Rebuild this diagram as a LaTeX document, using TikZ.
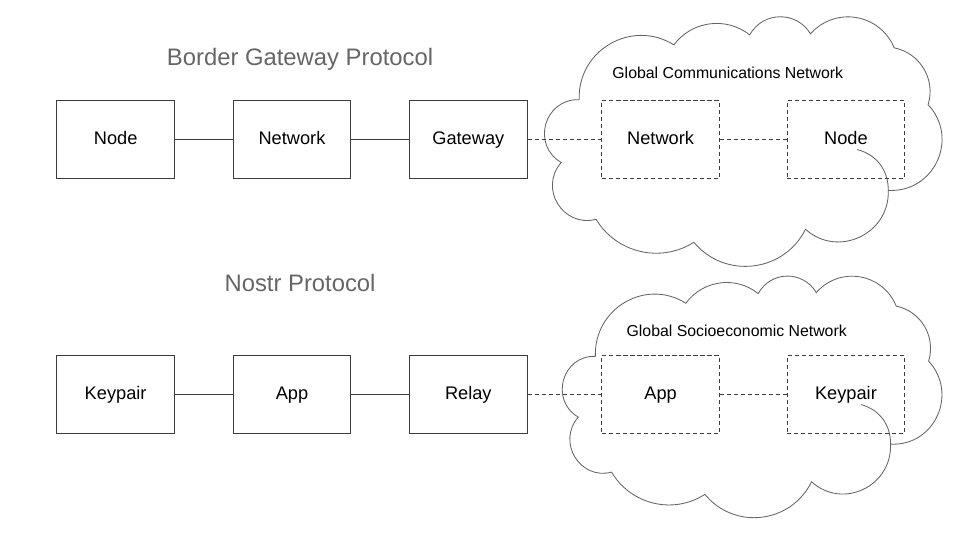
\documentclass[tikz,border=0pt]{standalone}
\usepackage{fontspec}
\setmainfont{Liberation Sans}
\usetikzlibrary{
    positioning,
}

\definecolor{titlegray}{RGB}{102,102,102}
\definecolor{linegray}{RGB}{60,60,60}
\definecolor{cloudgray}{RGB}{100,100,100}

\begin{document}
\begin{tikzpicture}[
    x=0.025cm, y=0.025cm,
    box/.style={draw=linegray, line width=0.6pt, minimum width=2.95cm, minimum height=1.95cm,
                text height=0.72em, text depth=0em,
                font=\fontsize{13}{15}\selectfont},
    dashbox/.style={box, dash pattern=on 3pt off 2pt},
    title/.style={text=titlegray, font=\fontsize{17}{20}\selectfont},
    cloudtitle/.style={font=\fontsize{11.3}{13}\selectfont},
    link/.style={draw=linegray, line width=0.6pt},
    dashlink/.style={link, dash pattern=on 3pt off 2pt},
    cloudline/.style={draw=cloudgray, line width=0.6pt},
    cloudshape/.pic={
        \path[cloudline] (581,440) to[bend right=76, looseness=1.37] (563,377)
            to[bend right=73, looseness=1.32] (598,320)
            to[bend right=46, looseness=1.0] (696,297)
            to[bend right=57, looseness=1.10] (808,310)
            to[bend right=67, looseness=1.22] (891,349)
            to[bend right=68, looseness=1.25] (931,435)
            to[bend right=48, looseness=1.02] (897,492)
            to[bend right=58, looseness=1.12] (813,506)
            to[bend right=60, looseness=1.14] (752,505)
            to[bend right=46, looseness=1.0] (676,495)
            to[bend right=62, looseness=1.16] (581,440);
        \path[cloudline] (860,390) to[bend left=38] (891,349);
    }
]

\path[fill=white] (0,0) rectangle (960,540);

% clouds
\pic (gcnCloud) at (0,0) {cloudshape};
\pic (gsnCloud) [xshift=1.06cm, yshift=-6.0825cm, xscale=0.955, yscale=0.968] at (0,0) {cloudshape};

\node[title] (bgpTitle) at (301,480) {Border Gateway Protocol};
\node[title] (nostrTitle) at (301,256) {Nostr Protocol};
\node[cloudtitle] (gcnLabel) at (730,467) {Global Communications Network};
\node[cloudtitle] (gsnLabel) at (739,208) {Global Socioeconomic Network};

% BGP row
\node[box] (bgpNode) at (116,400) {Node};
\node[box] (bgpNetwork) [right=1.45cm of bgpNode] {Network};
\node[box] (bgpGateway) [right=1.45cm of bgpNetwork] {Gateway};
\node[dashbox] (gcnNetwork) [right=1.85cm of bgpGateway] {Network};
\node[dashbox] (gcnNode) [right=1.675cm of gcnNetwork] {Node};

% Nostr row
\node[box] (nsKeypair) at (116,144) {Keypair};
\node[box] (nsApp) [right=1.45cm of nsKeypair] {App};
\node[box] (nsRelay) [right=1.45cm of nsApp] {Relay};
\node[dashbox] (gsnApp) [right=1.85cm of nsRelay] {App};
\node[dashbox] (gsnKeypair) [right=1.675cm of gsnApp] {Keypair};

\draw[link] (bgpNode) -- (bgpNetwork);
\draw[link] (bgpNetwork) -- (bgpGateway);
\draw[dashlink] (bgpGateway) -- (gcnNetwork);
\draw[dashlink] (gcnNetwork) -- (gcnNode);

\draw[link] (nsKeypair) -- (nsApp);
\draw[link] (nsApp) -- (nsRelay);
\draw[dashlink] (nsRelay) -- (gsnApp);
\draw[dashlink] (gsnApp) -- (gsnKeypair);

\end{tikzpicture}
\end{document}
